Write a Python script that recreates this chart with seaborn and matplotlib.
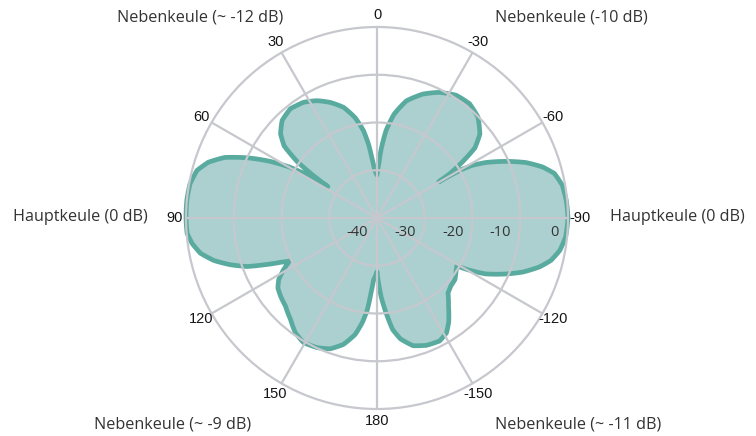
import numpy as np
import matplotlib
matplotlib.use("Agg")
import matplotlib.pyplot as plt
import seaborn as sns
from matplotlib.transforms import offset_copy

# ---- data (angle in degrees, counter-clockwise from top; gain in dB) ----
angles_deg = [-180, -179.0, -177.0, -174.5, -172.0, -169.0, -164.2, -158.8, -153.0,
              -148.8, -145.5, -141.0, -136.5, -132.6, -128.3, -124.2, -121.0,
              -119.6, -117.3, -113.6, -110.4, -106.8, -103.7, -100.0, -95.7, -90,
              -84.6, -79.9, -75.9, -72.9, -69.6, -66.3, -63.0, -61.0, -60.2, -59.6,
              -58.6, -56.6, -54.4, -50.8, -45.0, -39.0, -32.9, -26.5, -20.4, -14.1,
              -9.3, -5.9, -3.3, -2.0, 0,
              2.8, 4.9, 6.6, 8.8, 12.3, 16.8, 22.0, 27.1, 32.4, 38.4, 44.2, 48.9,
              52.2, 54.8, 56.3, 57.4,
              58.6, 59.8, 62.0, 65.0, 68.3, 71.7, 75.2, 79.6, 84.6, 90, 94.6, 97.8,
              101.3, 104.6, 107.7, 110.5, 112.5, 114.7, 116.2,
              119.0, 122.1, 125.2, 129.1, 133.9, 139.5, 144.6, 149.5, 155.2, 160.3,
              165.1, 169.4, 172.0, 174.0, 175.4, 176.8, 180]
gain_db = [-28.7, -27.0, -23.5, -20.0, -16.4, -14.2, -12.2, -11.4, -11.1,
           -11.9, -13.5, -16.2, -18.4, -19.0, -19.2, -20.0, -20.5,
           -18.0, -14.5, -10.7, -7.5, -4.5, -2.5, -1.1, -0.3, 0.0,
           -0.2, -0.6, -1.7, -3.7, -6.7, -10.5, -14.4, -17.3, -19.5, -25.0,
           -22.0, -18.4, -14.8, -12.2, -10.1, -9.2, -9.4, -10.6, -12.3, -14.7,
           -18.0, -21.6, -25.8, -28.5, -31.0,
           -30.0, -27.3, -24.4, -21.5, -18.5, -15.8, -13.9, -12.4, -11.3, -10.8, -11.5, -13.2,
           -15.4, -19.6, -24.0, -27.8,
           -22.0, -18.8, -14.8, -10.2, -5.7, -2.8, -1.0, -0.2, 0.0, 0.0, -0.1, -0.9,
           -2.3, -4.7, -7.8, -11.0, -14.4, -17.8, -19.6,
           -17.6, -15.7, -14.6, -14.0, -13.4, -12.1, -10.5, -9.7, -10.1, -10.9,
           -12.6, -15.2, -17.9, -20.7, -24.2, -27.0, -28.7]

theta_ticks = [0, 30, 60, 90, 120, 150, 180, 210, 240, 270, 300, 330]
theta_labels = ["0", "30", "60", "90", "120", "150", "180",
                "-150", "-120", "-90", "-60", "-30"]
r_ticks = [-40, -30, -20, -10, 0]
r_labels = ["-40", "-30", "-20", "-10", "0"]

lobe_texts = ["Hauptkeule (0 dB)", "Hauptkeule (0 dB)",
              "Nebenkeule (~ -12 dB)", "Nebenkeule (-10 dB)",
              "Nebenkeule (~ -9 dB)", "Nebenkeule (~ -11 dB)"]

# ---- styling ----
sns.set_theme(style="white")
plt.rcParams["font.family"] = ["Open Sans", "DejaVu Sans"]

W, H = 756, 436
fig = plt.figure(figsize=(W / 100, H / 100), dpi=100)
cx, cy, R = 377, 218, 191
ax = fig.add_axes([(cx - R) / W, (H - cy - R) / H, 2 * R / W, 2 * R / H],
                  projection="polar")
ax.set_theta_zero_location("N")
ax.set_theta_direction(1)
ax.set_ylim(-40, 0)

grid_col = "#c6c8ce"
ax.set_yticks(r_ticks[1:-1])
ax.set_yticklabels([])
ax.set_xticks(np.deg2rad(theta_ticks))
ax.set_xticklabels(theta_labels, fontsize=10.5, color="#151515",
                   family=["Liberation Sans", "DejaVu Sans"])
ax.tick_params(axis="x", pad=-4.5)
ax.grid(True, color=grid_col, linewidth=1.6)
ax.spines["polar"].set_color(grid_col)
ax.spines["polar"].set_linewidth(1.6)
ax.set_axisbelow(False)
ax.set_facecolor("white")

th = np.deg2rad(angles_deg)
poly = ax.fill(th, gain_db, color="#acd0d0", zorder=1, linewidth=0)[0]
poly.get_path()._interpolation_steps = 12
sns.lineplot(x=th, y=gain_db, sort=False, estimator=None, color="#5aab9f",
             linewidth=3.4, ax=ax, zorder=2, clip_on=False)
for ln in ax.get_lines():
    if ln.get_color() == "#5aab9f":
        ln.get_path()._interpolation_steps = 12
        ln.set_solid_joinstyle("round")
ax.set_xlabel("")
ax.set_ylabel("")

# radial labels along the -90 direction
tr = offset_copy(ax.transData, fig=fig, x=-9, y=-14, units="dots")
for rv, lab in zip(r_ticks, r_labels):
    ax.text(np.deg2rad(270), rv, lab, transform=tr, ha="right", va="center",
            fontsize=10.5, color="#333333")

# lobe annotations (pixel positions)
pos = [(80, 217), (677, 217), (200, 17), (571, 17), (173, 424), (578, 424)]
for (px, py), t in zip(pos, lobe_texts):
    fig.text(px / W, 1 - py / H, t, ha="center", va="center",
             fontsize=11.6, color="#333333")

fig.savefig("out.png", dpi=100)
